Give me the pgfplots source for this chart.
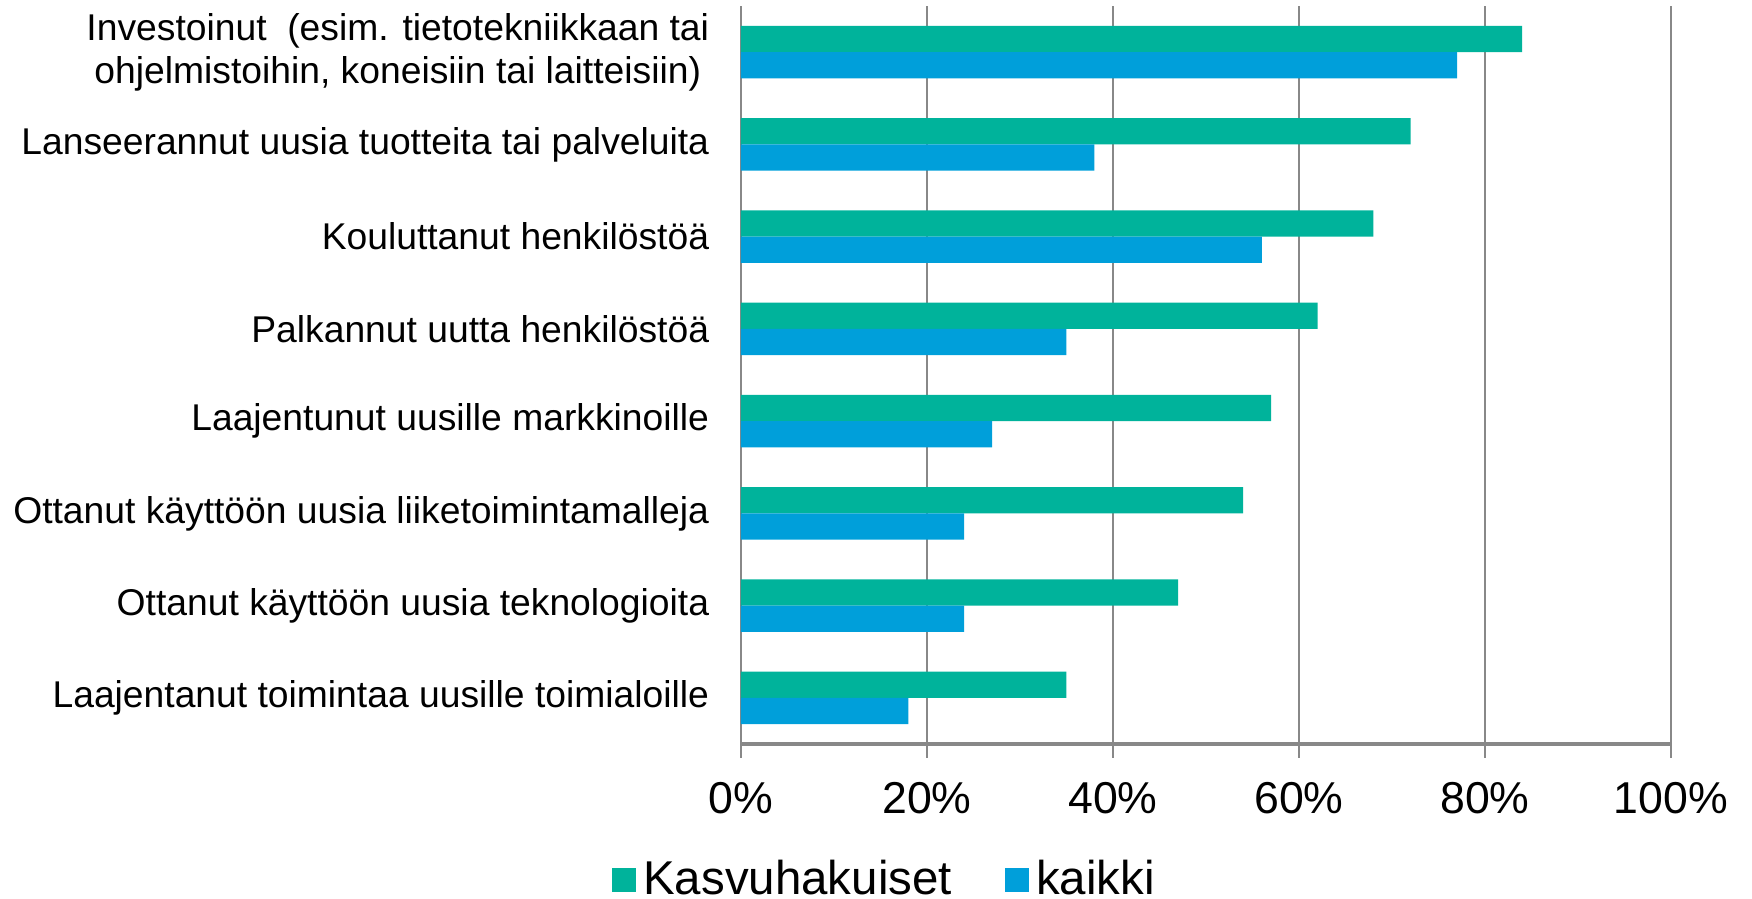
\documentclass[border=0pt]{standalone}
\usepackage{fontspec}
\setmainfont{Liberation Sans}
\usepackage{pgfplots}
\pgfplotsset{compat=1.18}
\definecolor{kasvu}{HTML}{00B39B}
\definecolor{kaikki}{HTML}{009FDA}
\definecolor{gridg}{HTML}{888888}

\pgfplotsset{sqlegend/.style={legend image code/.code={%
  \fill[##1] (0cm,-0.12cm) rectangle (0.24cm,0.12cm);}}}

% idx 7 = top category
\pgfplotstableread{
idx kasvu kaikki
7 84 77
6 72 38
5 68 56
4 62 35
3 57 27
2 54 24
1 47 24
0 35 18
}\datatable

\begin{document}
\begin{tikzpicture}
\useasboundingbox (-7.41,-1.55) rectangle (10.11,7.44);
\begin{axis}[
  at={(0,0)}, anchor=south west,
  width=9.3cm, height=7.38cm, scale only axis,
  xbar, bar width=0.263cm,
  xmin=0, xmax=100, ymin=-0.5, ymax=7.5,
  axis x line*=bottom, axis y line*=left,
  axis line style={gridg, line width=0.6pt},
  x axis line style={line width=0.9pt},
  xmajorgrids, grid style={gridg, line width=0.6pt},
  tick align=outside,
  major tick length=0.14cm, minor tick length=0.12cm,
  xtick={0,20,...,100},
  xticklabels={0\%,20\%,40\%,60\%,80\%,100\%},
  xtick style={gridg, line width=0.6pt},
  xticklabel style={font=\fontsize{12.7}{15}\selectfont, yshift=-0.12cm},
  ytick={0,...,7},
  yticklabels={
    Laajentanut toimintaa uusille toimialoille,
    Ottanut käyttöön uusia teknologioita,
    Ottanut käyttöön uusia liiketoimintamalleja,
    Laajentunut uusille markkinoille,
    Palkannut uutta henkilöstöä,
    Kouluttanut henkilöstöä,
    Lanseerannut uusia tuotteita tai palveluita,
    {Investoinut\ \ (esim. tietotekniikkaan tai\\ohjelmistoihin, koneisiin tai laitteisiin)}
  },
  ytick style={draw=none},
  minor ytick={-0.5,0.5,...,7.5},
  minor tick style={gridg, line width=0.6pt},
  yticklabel style={font=\fontsize{10.6}{12.2}\selectfont, align=center, xshift=-0.055cm},
  legend style={at={(0.157,-0.184)}, anchor=center, draw=none,
    legend columns=2, font=\fontsize{13.5}{16}\selectfont,
    /tikz/every even column/.append style={column sep=0.46cm}},
]
\addplot[fill=kasvu, draw=none, bar shift=0.1315cm, sqlegend]
  table[x=kasvu, y=idx]{\datatable};
\addplot[fill=kaikki, draw=none, bar shift=-0.1315cm, sqlegend]
  table[x=kaikki, y=idx]{\datatable};
\legend{Kasvuhakuiset, kaikki}
\end{axis}
\end{tikzpicture}
\end{document}
